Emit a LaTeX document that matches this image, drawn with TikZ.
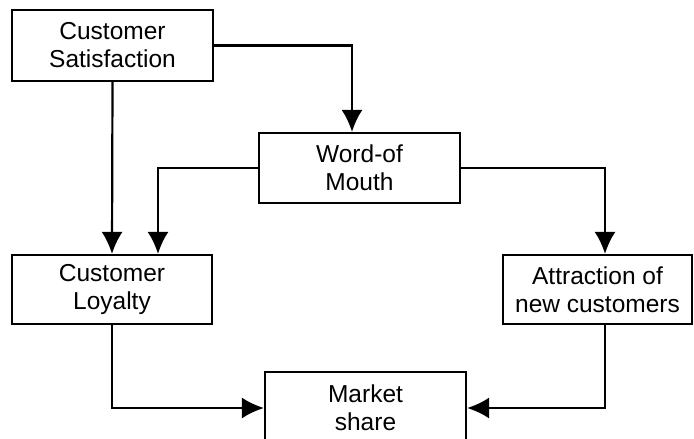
\documentclass[tikz,border=0pt]{standalone}
\usepackage{fontspec}
\setmainfont{Liberation Sans}
\usetikzlibrary{arrows.meta}

\begin{document}
\begin{tikzpicture}[x=1pt, y=-1pt, line width=2.2pt,
    box/.style={draw, align=center, inner sep=0pt,
        font=\fontsize{24.5}{28}\selectfont},
    flow/.style={-{Latex[length=22pt, width=21pt]}}]
    \useasboundingbox (0,0) rectangle (694,439);
    % Below nodes are the boxes.
        \node[box, minimum width=201pt, minimum height=71pt] (sat) at (112.5, 45.5) {Customer\\Satisfaction};
        \node[box, minimum width=201pt, minimum height=70pt] (wom) at (359.5, 168) {Word-of\\Mouth};
        \node[box, minimum width=200pt, minimum height=69pt] (loy) at (112, 289.5) {Customer\\Loyalty};
        \node[box, minimum width=189pt, minimum height=69pt] (attr) at (597.5, 289.5) {Attraction of\\new customers};
        \node[box, minimum width=201pt, minimum height=72pt] (mkt) at (365.5, 408) {Market\\share};
    % This draws the arrows.
        \draw[flow] (sat.east) -| ([xshift=-7.5pt]wom.north);
        \draw[flow] (sat.south) -- (loy.north);
        \draw[flow] (wom.west) -| ([xshift=46pt]loy.north);
        \draw[flow] (wom.east) -| ([xshift=7.5pt]attr.north);
        \draw[flow] (loy.south) |- (mkt.west);
        \draw[flow] ([xshift=7.5pt]attr.south) |- (mkt.east);
\end{tikzpicture}
\end{document}
